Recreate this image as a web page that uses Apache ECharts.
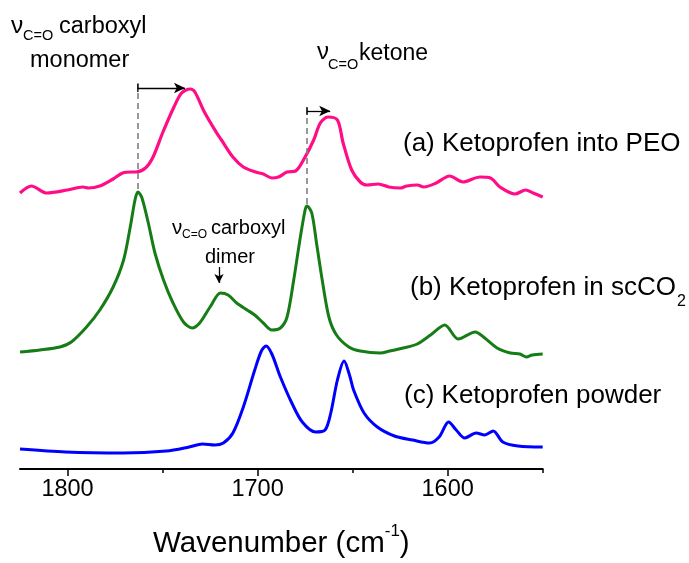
<!DOCTYPE html>
<html>
<head>
<meta charset="utf-8">
<script src="https://cdn.jsdelivr.net/npm/echarts@6/dist/echarts.min.js"></script>
<style>html,body{margin:0;padding:0;background:#fff;}#chart{width:689px;height:563px;}</style>
</head>
<body>
<div id="chart"></div>
<script>
// ---- data (wavenumber in cm-1, absorbance in a.u., spectra stacked with offsets) ----
const wnPEO = [1825,1819,1811,1800,1792,1789,1783,1776,1771,1766,1764,1759,1755,1750,1744,1740,1735.5,1733,1728,1721.5,1719,1713,1707.5,1701,1697,1692.5,1689,1684.5,1680,1675,1670.5,1667,1663,1658,1655,1650.5,1646,1642.5,1636.5,1631,1625,1621.5,1616,1612.5,1606,1599,1592,1583,1577.5,1572.5,1564.5,1559,1555,1550];
const absPEO = [2.76,2.83,2.76,2.79,2.82,2.81,2.83,2.90,2.96,2.97,2.97,3.01,3.12,3.36,3.62,3.76,3.80,3.77,3.57,3.36,3.29,3.12,3.02,2.97,2.95,2.91,2.92,2.97,2.98,3.12,3.29,3.46,3.52,3.49,3.26,2.99,2.87,2.84,2.85,2.82,2.81,2.83,2.84,2.82,2.86,2.93,2.87,2.92,2.91,2.82,2.75,2.79,2.76,2.72];

const wnScCO2 = [1825,1814.5,1804,1798,1790,1783,1776,1770.5,1767,1764.5,1763,1761,1757.5,1754,1749.5,1744.5,1739,1734.5,1730.5,1725,1719.5,1715.5,1711,1705.5,1701.5,1697,1692.5,1688,1684.5,1681,1677.5,1675,1674,1671.5,1669,1666,1662.5,1658.5,1652,1646,1635.5,1630.5,1623.5,1616,1609,1601.5,1594.5,1585.5,1580.5,1574,1567,1562,1558.5,1555.5,1550];
const absScCO2 = [1.17,1.19,1.22,1.27,1.42,1.59,1.82,2.09,2.42,2.69,2.77,2.72,2.46,2.16,1.89,1.66,1.47,1.41,1.46,1.62,1.76,1.74,1.66,1.59,1.54,1.46,1.39,1.41,1.52,1.89,2.32,2.59,2.63,2.56,2.26,1.89,1.52,1.34,1.22,1.18,1.16,1.18,1.21,1.25,1.34,1.44,1.30,1.37,1.31,1.21,1.16,1.15,1.12,1.14,1.15];

const wnPowder = [1825,1801,1771,1748,1736,1729,1722.5,1718,1713,1707.5,1701.5,1698,1695.5,1692.5,1688,1682,1676.5,1669.5,1664.5,1661.5,1658,1654.5,1651.5,1649.5,1644,1637,1628,1618.5,1609.5,1604.5,1599.5,1595.5,1591,1585,1580.5,1576,1571,1563,1550];
const absPowder = [0.20,0.17,0.16,0.18,0.22,0.25,0.24,0.26,0.36,0.62,0.99,1.18,1.23,1.15,0.92,0.66,0.47,0.37,0.39,0.56,0.89,1.08,0.93,0.79,0.56,0.42,0.33,0.29,0.26,0.32,0.47,0.39,0.31,0.36,0.34,0.38,0.27,0.23,0.22];

const seriesNames = ['(a) Ketoprofen into PEO', '(b) Ketoprofen in scCO2', '(c) Ketoprofen powder'];
const majorTicks = [1800, 1700, 1600];
const minorTicks = [1750, 1650, 1550];
const xRange = [1550, 1825];
const yRange = [0, 4.5];

// annotation anchors (data coordinates)
const monomerShift = {from: 1763, to: 1738.2, top: 3.86, bottom: 2.77, arrowY: 3.81};
const ketoneShift  = {from: 1674, to: 1661.8, top: 3.61, bottom: 2.63, arrowY: 3.58};
const dimerArrow   = {wn: 1720.3, from: 2.02, to: 1.86};

const zip = (a, b) => a.map((v, i) => [v, b[i]]);
const FONT = "'Liberation Sans', Arial, sans-serif";
const chart = echarts.init(document.getElementById('chart'));

const dash = {color: '#808080', type: [6, 4], width: 1.6};
const barSym = 'path://M0,0 L10,0 L10,1 L0,1 Z';
const arrowLine = {color: '#000', type: 'solid', width: 1.3};

function txt(text, x, y, size, extra) {
  return Object.assign({type: 'text', silent: true, style: {
    text: text, x: x, y: y, fill: '#000', font: size + 'px ' + FONT,
    align: 'left', verticalAlign: 'middle'}}, extra || {});
}

const option = {
  animation: false,
  backgroundColor: '#fff',
  grid: {left: 20, right: 146.3, top: 19, bottom: 94, outerBoundsMode: 'none'},
  xAxis: [{
    type: 'value', min: xRange[0], max: xRange[1], inverse: true,
    splitLine: {show: false},
    axisLine: {show: true, onZero: false, lineStyle: {color: '#000', width: 2}},
    axisTick: {show: true, length: 7, customValues: majorTicks, lineStyle: {color: '#000', width: 1.5}},
    axisLabel: {customValues: majorTicks, formatter: v => String(v), margin: 9, fontSize: 23.5, fontFamily: FONT, color: '#000'},
    name: 'Wavenumber (cm{sup|-1})', nameLocation: 'middle', nameGap: 54,
    nameTextStyle: {fontSize: 29.5, fontFamily: FONT, color: '#000',
      rich: {sup: {fontSize: 17, fontFamily: FONT, color: '#000', padding: [0, 0, 24, 0]}}}
  }, {
    type: 'value', min: xRange[0], max: xRange[1], inverse: true, position: 'bottom',
    splitLine: {show: false}, axisLine: {show: false},
    axisTick: {show: true, length: 4, customValues: minorTicks, lineStyle: {color: '#000', width: 1.5}},
    axisLabel: {show: false}
  }],
  yAxis: {type: 'value', min: yRange[0], max: yRange[1], show: false},
  series: [{
    name: seriesNames[0], type: 'line', data: zip(wnPEO, absPEO), showSymbol: false,
    smooth: 0.3, lineStyle: {color: '#ff0d86', width: 3.2}, z: 3,
    markLine: {
      silent: true, animation: false, label: {show: false},
      data: [
        [{coord: [monomerShift.from, monomerShift.top], symbol: 'none', lineStyle: dash},
         {coord: [monomerShift.from, monomerShift.bottom], symbol: 'none'}],
        [{coord: [ketoneShift.from, ketoneShift.top], symbol: 'none', lineStyle: dash},
         {coord: [ketoneShift.from, ketoneShift.bottom], symbol: 'none'}],
        [{coord: [monomerShift.from, monomerShift.arrowY], symbol: barSym, symbolSize: [8, 1.3], lineStyle: arrowLine},
         {coord: [monomerShift.to, monomerShift.arrowY], symbol: 'arrow', symbolSize: [8, 11]}],
        [{coord: [ketoneShift.from, ketoneShift.arrowY], symbol: barSym, symbolSize: [8, 1.3], lineStyle: arrowLine},
         {coord: [ketoneShift.to, ketoneShift.arrowY], symbol: 'arrow', symbolSize: [8, 11]}],
        [{coord: [dimerArrow.wn, dimerArrow.from], symbol: 'none', lineStyle: arrowLine},
         {coord: [dimerArrow.wn, dimerArrow.to], symbol: 'arrow', symbolSize: [7, 9]}]
      ]
    }
  }, {
    name: seriesNames[1], type: 'line', data: zip(wnScCO2, absScCO2), showSymbol: false,
    smooth: 0.3, lineStyle: {color: '#167d16', width: 3}, z: 2
  }, {
    name: seriesNames[2], type: 'line', data: zip(wnPowder, absPowder), showSymbol: false,
    smooth: 0.3, lineStyle: {color: '#0000ff', width: 3}, z: 2
  }],
  graphic: [
    txt('ν', 11, 26.5, 24.5),
    txt('C=O', 23, 36, 14.5),
    txt('carboxyl', 59, 26.5, 23.5),
    txt('monomer', 30, 60.5, 23.5),
    txt('ν', 317, 52, 24),
    txt('C=O', 328, 65, 14.5),
    txt('ketone', 359, 53.5, 23),
    txt('ν', 172, 228, 20.5),
    txt('C=O', 182, 235, 12),
    txt('carboxyl', 211, 228, 20),
    txt('dimer', 205, 257, 20),
    txt('(a) Ketoprofen into PEO', 403, 143.5, 26),
    txt('(b) Ketoprofen in scCO', 410, 287.5, 26),
    txt('2', 677, 301.5, 16),
    txt('(c) Ketoprofen powder', 404, 395.5, 26)
  ]
};
chart.setOption(option);
</script>
</body>
</html>
